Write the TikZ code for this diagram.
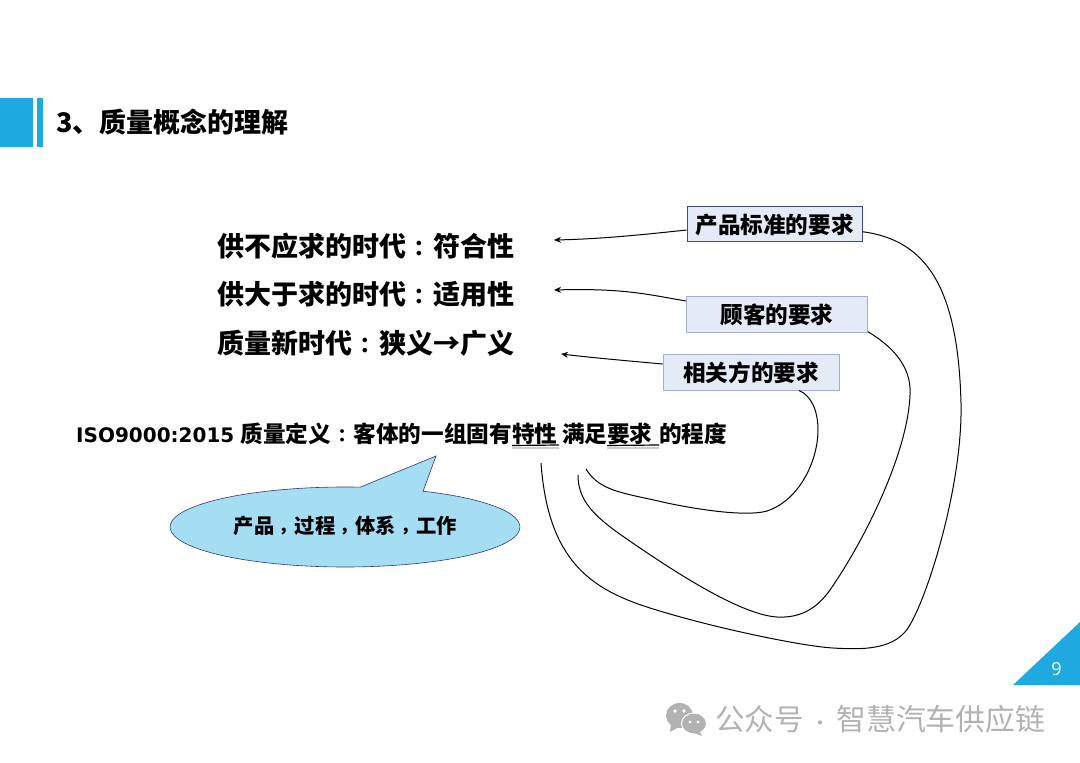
\documentclass[tikz,border=0pt]{standalone}
\usetikzlibrary{arrows.meta}
\usepackage{fontspec}
\setmainfont{Noto Sans CJK SC}
\newfontfamily\cjkpunct{Noto Sans CJK TC}
\newfontfamily\latinbold{DejaVu Sans}
\newfontfamily\pagefont{Open Sans}
\newcommand{\colonmark}{\makebox[1em]{\cjkpunct\bfseries\scalebox{.8}{：}}}
\newcommand{\commamark}{\raisebox{-4pt}{\makebox[1em]{\cjkpunct\bfseries\scalebox{.85}{，}}}}
\definecolor{sliceblue}{HTML}{1FA9E1}
\definecolor{bubbleblue}{HTML}{A5DDF3}
\definecolor{boxfill}{HTML}{E4EAF6}
\definecolor{boxdark}{HTML}{3D4A90}
\definecolor{boxlight}{HTML}{A4ACD8}
\definecolor{markgray}{HTML}{B2B2B2}
\begin{document}
\begin{tikzpicture}
    [x=1pt,y=-1pt,
    headline/.style={anchor=west,inner sep=0pt,font=\fontsize{27}{27}\selectfont\bfseries},
    isotext/.style={anchor=base west,inner sep=0pt,font=\fontsize{22.6}{22.6}\selectfont\bfseries},
    reqbox/.style={draw=boxlight,fill=boxfill,line width=0.9pt,inner sep=0pt,text height=21.5pt,text depth=3pt,minimum height=36pt,font=\fontsize{22.6}{22.6}\selectfont\bfseries},
    pointer/.style={-{Stealth[length=7pt,width=6pt]},line width=1pt,black},
    longcurve/.style={line width=1pt,black},
    underbar/.style={line width=1.2pt,black},
    marktext/.style={anchor=west,inner sep=0pt,text=markgray}]
    \useasboundingbox (0,0) rectangle (1080,763);
    %title bar
    \fill[sliceblue] (0,97.5) rectangle (33,146.5);
    \fill[sliceblue] (37.3,97.5) rectangle (43,146.5);
    \node[headline] (title) at (56,122) {3、质量概念的理解};
    %three lines
    \node[headline] (lineone) at (217,246) {供不应求的时代\colonmark 符合性};
    \node[headline] (linetwo) at (217,294.5) {供大于求的时代\colonmark 适用性};
    \node[headline] (linethree) at (217,343) {质量新时代\colonmark 狭义→广义};
    %definition line
    \node[isotext,font=\fontsize{20}{20}\selectfont\latinbold\bfseries] (isoname) at (76,442) {ISO9000:2015};
    \node[isotext] (isodef) at (240.5,442) {质量定义\colonmark 客体的一组固有};
    \node[isotext] (isotrait) at (512,442) {特性};
    \node[isotext] (isomeet) at (562,442) {满足};
    \node[isotext] (isoreq) at (607,442) {要求};
    \node[isotext] (isotail) at (659,442) {的程度};
    \coordinate (traitend) at (559,445);
    \coordinate (reqend) at (659,445);
    \draw[underbar,gray!40,line width=2pt] ([yshift=-5.5pt]isotrait.base west) -- ([yshift=-2.5pt]traitend);
    \draw[underbar,gray!40,line width=2pt] ([yshift=-5.5pt]isoreq.base west) -- ([yshift=-2.5pt]reqend);
    \draw[underbar] ([yshift=-3.5pt]isotrait.base west) -- (traitend);
    \draw[underbar] ([yshift=-3.5pt]isoreq.base west) -- (reqend);
    %speech bubble
    \draw[draw=boxdark!80!black,line width=0.6pt,fill=bubbleblue] (423.1,491.2)
    arc[start angle=63.5,end angle=-275,x radius=175pt,y radius=40pt]
    -- (436,456) -- cycle;
    \node[inner sep=0pt,font=\fontsize{20.3}{20.3}\selectfont\bfseries] (bubbletext) at (345.5,527) {产品\commamark 过程\commamark 体系\commamark 工作};
    %boxes on the right
    \node[reqbox,draw=boxdark,minimum width=175pt,minimum height=35pt] (stdbox) at (774.5,224) {产品标准的要求};
    \node[reqbox,minimum width=181pt] (custbox) at (777,314) {顾客的要求};
    \node[reqbox,minimum width=176pt] (partybox) at (751,372) {相关方的要求};
    %pointers to the lines
    \coordinate (stdtip) at (554,240);
    \coordinate (custtip) at (554,290);
    \coordinate (partytip) at (561,354);
    \draw[pointer] (stdbox.west |- 0,230) .. controls (640,235) and (600,239) .. (stdtip);
    \draw[pointer] (custbox.west |- 0,301) .. controls (650,295) and (625,288) .. (custtip);
    \draw[pointer] (partybox.west |- 0,364) .. controls (630,361) and (595,358) .. (partytip);
    %long curves
    \coordinate (traitfoot) at (541,463);
    \coordinate (reqfoot) at (578,475);
    \coordinate (partyfoot) at (586,469);
    \draw[longcurve] (stdbox.-5) .. controls (925,240) and (958,285) .. (961,403)
    .. controls (963,490) and (923,612) .. (905,632)
    .. controls (890,648.7) and (865,650) .. (833,648)
    .. controls (800,646) and (710,627) .. (650,608)
    .. controls (590,589) and (548,560) .. (traitfoot);
    \draw[longcurve] (custbox.-11.8) .. controls (890,345) and (912,365) .. (910,395)
    .. controls (908,450) and (868,535) .. (830,590)
    .. controls (815,611) and (798,618) .. (777,617)
    .. controls (745,615) and (690,582) .. (640,548)
    .. controls (600,521) and (578,505) .. (reqfoot);
    \draw[longcurve] (partybox.-21) .. controls (812,396) and (818,412) .. (818,430)
    .. controls (818,460) and (800,500) .. (767,511)
    .. controls (750,516) and (710,512) .. (667,503)
    .. controls (625,493) and (600,492) .. (partyfoot);
    %page corner
    \fill[sliceblue] (1013,685) -- (1080,622) -- (1080,685) -- cycle;
    \node[inner sep=0pt,text=white,font=\fontsize{18}{18}\selectfont\pagefont] (pagenum) at (1056.5,669) {9};
    %watermark
    \fill[markgray] (679.5,715.5) ellipse [x radius=13.5pt,y radius=12.5pt];
    \fill[markgray] (671,724) -- (670,732) -- (679,727) -- cycle;
    \fill[markgray,draw=white,line width=1pt] (694,723.5) ellipse [x radius=12.5pt,y radius=10.5pt];
    \fill[markgray] (699,730) -- (702,736) -- (694,733) -- cycle;
    \fill[white] (675,711) circle [radius=1.8pt];
    \fill[white] (684,711) circle [radius=1.8pt];
    \fill[white] (690,722) circle [radius=1.6pt];
    \fill[white] (698,722) circle [radius=1.6pt];
    \node[marktext,font=\fontsize{29.5}{29.5}\selectfont] (markleft) at (715,719) {公众号};
    \node[marktext,font=\fontsize{20}{20}\selectfont] (markdot) at (810,726) {·};
    \node[marktext,font=\fontsize{29.9}{29.9}\selectfont] (markname) at (836,719) {智慧汽车供应链};
\end{tikzpicture}
\end{document}
